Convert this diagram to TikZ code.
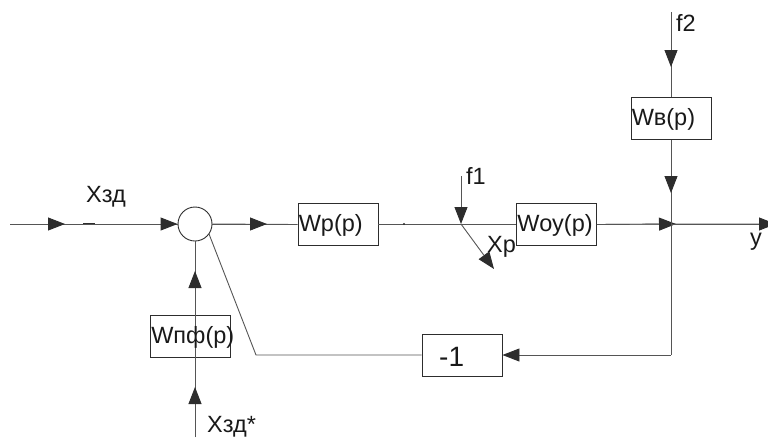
\documentclass[tikz,border=0pt]{standalone}
\usepackage{fontspec}
\setmainfont{Liberation Sans}
\usetikzlibrary{arrows.meta}
\definecolor{ln}{RGB}{85,85,85}
\definecolor{ah}{RGB}{45,45,45}
\begin{document}
\begin{tikzpicture}[x=1pt,y=-1pt,
  wire/.style={draw=ln,line width=0.9pt},
  arr/.style={wire,-{Triangle[length=17pt,width=13pt,fill=ah,color=ah]}},
  blk/.style={draw=ah,line width=0.9pt,minimum width=80pt,minimum height=42pt,inner sep=0pt},
  txt/.style={inner sep=0pt,anchor=base west,text=black!90,font=\fontsize{23.5}{27}\selectfont},
  bigtxt/.style={txt,font=\fontsize{28}{32}\selectfont}]
\useasboundingbox (0,0) rectangle (768,437);
\clip (0,0) rectangle (768,437);

% nodes
\node[circle,draw=ah,line width=0.9pt,minimum size=34pt,inner sep=0pt] (sum) at (195,224) {};
\node[blk] (wp)  at (338,224.5) {};
\node[blk] (woy) at (556.5,224.5) {};
\node[blk] (wv)  at (671,118.5) {};
\node[blk] (wpf) at (190.5,336.5) {};
\node[blk] (neg) at (462,355) {};

% coordinates
\coordinate (in)    at (10,224);
\coordinate (a1)    at (65,224);
\coordinate (d1)    at (83,224);
\coordinate (d2)    at (95,224);
\coordinate (a3)    at (267,224);
\coordinate (dot)   at (404,224);
\coordinate (j1)    at (461,224);
\coordinate (f1top) at (461,176);
\coordinate (xp)    at (494,269);
\coordinate (j2)    at (671,224);
\coordinate (a6)    at (676,224);
\coordinate (f2top) at (671,12);
\coordinate (a8)    at (671,67);
\coordinate (a9)    at (671,193);
\coordinate (j3)    at (671,355);
\coordinate (out)   at (776,224);
\coordinate (fbk)   at (256,355);
\coordinate (a11)   at (195,271);
\coordinate (xin)   at (195,437);
\coordinate (a12)   at (195,387);

% forward path
\draw[wire] (in) -- (sum.west);
\draw[arr] (in) -- (a1);
\draw[ah,line width=1.4pt] (d1) -- (d2);
\draw[arr] (a1) -- (sum.west);
\draw[wire] (sum.east) -- (wp.west);
\draw[arr] (sum.east) -- (a3);
\draw[wire] (wp.east) -- (woy.west);
\fill[ah] (dot) circle (1.1pt);
\draw[arr] (f1top) -- (j1);
\draw[arr] (j1) -- (xp);
\draw[wire] (woy.east) -- (j2) -- (out);
\draw[arr] (woy.east) -- (a6);
\draw[arr] (j2) -- (out);

% disturbance f2
\draw[wire] (f2top) -- (wv.north);
\draw[arr] (f2top) -- (a8);
\draw[wire] (wv.south) -- (j2);
\draw[arr] (wv.south) -- (a9);

% feedback
\draw[wire] (j2) -- (j3);
\draw[arr] (j3) -- (neg.east);
\draw[wire] (neg.west) -- (fbk) -- (sum.-36);

% lower input
\draw[wire] (xin) -- (sum.south);
\draw[arr] (xin) -- (a12);
\draw[arr] (sum.south |- wpf.north) -- (a11);

% texts
\node[txt] (twp)  at ([shift={(1,7)}]wp.west)  {Wp(p)};
\node[txt] (twoy) at ([shift={(1,7)}]woy.west) {Wоу(p)};
\node[txt] (twv)  at ([shift={(1,7)}]wv.west)  {Wв(p)};
\node[txt] (twpf) at ([shift={(1,7)}]wpf.west) {Wпф(p)};
\node[bigtxt] (tneg) at (439,366) {-1};
\node[txt] (txzd)  at (86,202)  {Xзд};
\node[txt] (tf1)   at (466,184) {f1};
\node[txt] (tf2)   at (676,31)  {f2};
\node[txt] (txp)   at (487,252) {Xp};
\node[txt] (ty)    at (750,245) {y};
\node[txt] (txzds) at (207,432) {Xзд*};
\end{tikzpicture}
\end{document}
